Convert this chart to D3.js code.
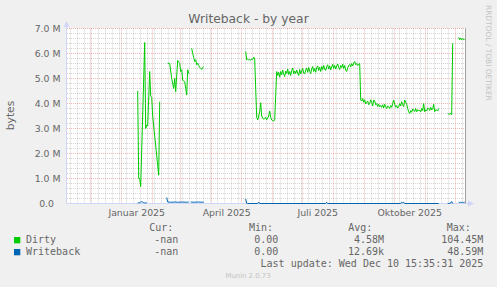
<!DOCTYPE html>
<html>
<head>
<meta charset="utf-8">
<script src="https://cdn.jsdelivr.net/npm/d3@7"></script>
<style>
  html, body { margin: 0; padding: 0; background: #f0f0f0; }
  svg { display: block; }
  text { font-family: "DejaVu Sans", sans-serif; fill: #666; }
  .mono { font-family: "DejaVu Sans Mono", monospace; font-size: 10px; white-space: pre; }
</style>
</head>
<body>
<svg id="chart" width="497" height="287"></svg>
<script>
// values in millions of bytes, null = no data (line break)
const dirty = [
  ['01-17', 4.5], ['01-18', 1.0], ['01-19', 1.0], ['01-20', 0.68], ['01-24', 6.44],
  ['01-25', 3.0], ['01-26', 3.14], ['01-27', 3.1], ['01-29', 5.28], ['01-30', 4.3],
  ['01-31', 4.25], ['02-01', 3.5], ['02-07', 1.13], ['02-08', 4.07], ['02-09', null],
  ['02-16', 5.61], ['02-18', 5.6], ['02-20', 5.0], ['02-22', 4.6], ['02-23', 5.0],
  ['02-24', 4.47], ['02-26', 5.72], ['02-28', 5.6], ['03-01', 5.28], ['03-02', 5.35],
  ['03-03', 4.93], ['03-05', 4.87], ['03-06', 4.6], ['03-07', 4.34], ['03-08', 5.35],
  ['03-09', 5.2], ['03-10', null],
  ['03-12', 6.21], ['03-13', 6.0], ['03-14', 5.85], ['03-15', 5.68], ['03-16', 5.75],
  ['03-17', 5.55], ['03-18', 5.62], ['03-19', 5.52], ['03-20', 5.45], ['03-21', 5.4],
  ['03-22', 5.36], ['03-23', 5.45], ['03-24', 5.47], ['03-25', null],
  ['05-05', 6.08], ['05-06', 5.75], ['05-07', 5.77], ['05-08', 5.74], ['05-09', 5.76],
  ['05-10', 5.73], ['05-11', 5.78], ['05-12', 5.76], ['05-13', 5.85], ['05-14', 5.78],
  ['05-16', 3.45], ['05-17', 3.34], ['05-18', 3.5], ['05-19', 3.67], ['05-20', 4.03],
  ['05-21', 3.5], ['05-22', 3.42], ['05-23', 3.37], ['05-24', 3.4], ['05-25', 3.45],
  ['05-26', 3.35], ['05-27', 3.42], ['05-28', 3.5], ['05-29', 3.7], ['05-30', 3.45],
  ['05-31', 3.34], ['06-01', 3.32], ['06-02', 3.3], ['06-03', 3.35],
  ['06-05', 5.28], ['06-06', 5.12], ['06-07', 5.25], ['06-08', 5.05], ['06-09', 5.28],
  ['06-10', 5.15], ['06-11', 5.34], ['06-12', 5.18], ['06-13', 5.08], ['06-14', 5.3],
  ['06-15', 5.2], ['06-16', 5.38], ['06-17', 5.16], ['06-18', 5.28], ['06-19', 5.12],
  ['06-20', 5.32], ['06-21', 5.42], ['06-22', 5.18], ['06-23', 5.3], ['06-24', 5.2],
  ['06-25', 5.34], ['06-26', 5.22], ['06-27', 5.12], ['06-28', 5.36], ['06-29', 5.18],
  ['06-30', 5.3], ['07-01', 5.4], ['07-02', 5.22], ['07-03', 5.18], ['07-04', 5.34],
  ['07-05', 5.42], ['07-06', 5.25], ['07-07', 5.44], ['07-08', 5.28], ['07-09', 5.2],
  ['07-10', 5.38], ['07-11', 5.48], ['07-12', 5.28], ['07-13', 5.4], ['07-14', 5.25],
  ['07-15', 5.44], ['07-16', 5.5], ['07-17', 5.32], ['07-18', 5.45], ['07-19', 5.28],
  ['07-20', 5.48], ['07-21', 5.36], ['07-22', 5.52], ['07-23', 5.38], ['07-24', 5.32],
  ['07-25', 5.48], ['07-26', 5.55], ['07-27', 5.38], ['07-28', 5.5], ['07-29', 5.35],
  ['07-30', 5.46], ['07-31', 5.57], ['08-01', 5.4], ['08-02', 5.52], ['08-03', 5.38],
  ['08-04', 5.5], ['08-05', 5.58], ['08-06', 5.44], ['08-07', 5.36], ['08-08', 5.52],
  ['08-09', 5.44], ['08-10', 5.57], ['08-11', 5.4], ['08-12', 5.52], ['08-13', 5.34],
  ['08-14', 5.28], ['08-15', 5.42], ['08-16', 5.52], ['08-17', 5.56], ['08-18', 5.46],
  ['08-19', 5.6], ['08-20', 5.5], ['08-21', 5.62], ['08-22', 5.68], ['08-23', 5.55],
  ['08-24', 5.6], ['08-25', 5.52], ['08-26', 5.58], ['08-27', 5.6],
  ['08-28', 4.14], ['08-29', 4.1], ['08-30', 4.2], ['08-31', 4.05], ['09-01', 4.15],
  ['09-02', 3.98], ['09-03', 4.05], ['09-04', 4.1], ['09-05', 3.95], ['09-06', 4.0],
  ['09-07', 4.15], ['09-08', 4.05], ['09-09', 3.9], ['09-10', 4.14], ['09-11', 4.1],
  ['09-12', 3.95], ['09-13', 4.0], ['09-14', 3.88], ['09-15', 3.97], ['09-16', 3.87],
  ['09-17', 3.92], ['09-18', 3.85], ['09-19', 3.95], ['09-20', 3.82], ['09-21', 3.97],
  ['09-22', 3.88], ['09-23', 3.8], ['09-24', 3.9], ['09-25', 3.87], ['09-26', 3.8],
  ['09-27', 3.92], ['09-28', 3.85], ['09-29', 4.0], ['09-30', 4.14], ['10-01', 3.97],
  ['10-02', 3.85], ['10-03', 3.92], ['10-04', 3.82], ['10-05', 3.87], ['10-06', 4.0],
  ['10-07', 3.9], ['10-08', 4.07], ['10-09', 3.95], ['10-10', 3.87], ['10-11', 4.14],
  ['10-12', 4.05], ['10-13', 3.97], ['10-14', 3.8], ['10-15', 3.67], ['10-16', 3.6],
  ['10-17', 3.72], ['10-18', 3.65], ['10-19', 3.78], ['10-20', 3.74], ['10-21', 3.68],
  ['10-22', 3.8], ['10-23', 3.67], ['10-24', 3.75], ['10-25', 3.7], ['10-26', 3.74],
  ['10-27', 3.66], ['10-28', 3.8], ['10-29', 3.72], ['10-30', 4.0], ['10-31', 3.67],
  ['11-01', 3.75], ['11-02', 3.7], ['11-03', 3.82], ['11-04', 3.8], ['11-05', 3.72],
  ['11-06', 3.85], ['11-07', 3.74], ['11-08', 3.78], ['11-09', 3.97], ['11-10', 3.67],
  ['11-11', 3.75], ['11-12', 3.74], ['11-13', 3.7], ['11-14', 3.8], ['11-15', null],
  ['11-23', 3.6], ['11-24', 3.58], ['11-25', 3.58], ['11-26', 3.6], ['11-27', 3.55],
  ['11-28', 6.41], ['11-29', null],
  ['12-04', 6.65], ['12-05', 6.55], ['12-06', 6.62], ['12-07', 6.55], ['12-08', 6.6],
  ['12-09', 6.55], ['12-10', 6.57]
]

const writeback = [
  ['01-17', 0.02], ['01-18', 0.03], ['01-19', 0.03], ['01-20', 0.06], ['01-21', 0.07],
  ['01-22', 0.06], ['01-23', 0.03], ['01-24', 0.02], ['01-25', 0.03], ['01-26', 0.03],
  ['01-27', null],
  ['02-15', 0.24], ['02-16', 0.06], ['02-19', 0.05], ['02-23', 0.06], ['02-27', 0.05],
  ['03-03', 0.06], ['03-07', 0.05], ['03-09', 0.06], ['03-10', null],
  ['03-11', 0.06], ['03-15', 0.05], ['03-19', 0.06], ['03-24', 0.05], ['03-25', null],
  ['05-05', 0.18], ['05-06', 0.01], ['05-07', 0.0], ['05-17', 0.0], ['05-18', 0.06],
  ['05-19', 0.0], ['07-24', 0.0], ['07-25', 0.05], ['07-26', 0.0], ['10-07', 0.0],
  ['10-08', 0.05], ['10-09', 0.03], ['10-10', 0.05], ['10-11', 0.0], ['11-14', 0.0],
  ['11-15', null],
  ['11-23', 0.01], ['11-24', 0.0], ['11-26', 0.02], ['11-27', 0.08], ['11-28', 0.0],
  ['11-29', null],
  ['12-04', 0.05], ['12-05', 0.04], ['12-06', 0.05], ['12-07', 0.04], ['12-08', 0.05],
  ['12-09', 0.04], ['12-10', 0.05]
]

const yTicks = [0, 1, 2, 3, 4, 5, 6, 7]
const xLabelMonths = ['2025-01-01', '2025-04-01', '2025-07-01', '2025-10-01']
const xLabels = ['Januar 2025', 'April 2025', 'Juli 2025', 'Oktober 2025']

const legendNames = ['Dirty', 'Writeback']
const legendColors = ['#00cc00', '#0066b3']
const legendCur = ['-nan', '-nan']
const legendMin = ['0.00', '0.00']
const legendAvg = ['4.58M', '12.69k']
const legendMax = ['104.45M', '48.59M']

const parse = d3.utcParse('%Y-%m-%d')
const toPoints = arr => arr.map(([d, v]) => ({ date: parse('2025-' + d), v }))

const plotLeft = 67, plotRight = 466, plotTop = 28.5, plotBottom = 203.5

const x = d3.scaleUtc()
  .domain([new Date(Date.UTC(2024, 10, 7, 7, 12)), new Date(Date.UTC(2025, 11, 11, 7, 12))])
  .range([plotLeft, plotRight])

const y = d3.scaleLinear()
  .domain([0, 7])
  .range([plotBottom, plotTop])

const crisp = v => Math.round(v - 0.5) + 0.5

const svg = d3.select('#chart')

// canvas
svg.append('rect')
  .attr('x', plotLeft).attr('y', plotTop)
  .attr('width', plotRight - plotLeft).attr('height', plotBottom - plotTop)
  .attr('fill', '#fff')

const grid = svg.append('g')
const minorColor = 'rgba(143,143,143,0.38)'
const majorColor = 'rgba(222,79,79,0.4)'

// minor horizontal grid (0.2 M)
const minorY = d3.range(0, 7.01, 0.2).filter(v => Math.abs(v - Math.round(v)) > 0.01)
grid.selectAll('.hmin')
  .data(minorY)
  .enter()
  .append('line')
  .attr('x1', plotLeft).attr('x2', plotRight)
  .attr('y1', d => crisp(y(d))).attr('y2', d => crisp(y(d)))
  .attr('stroke', minorColor)
  .attr('stroke-dasharray', '1,1')

// weekly minor vertical grid
const [t0, t1] = x.domain()
const months = d3.utcMonth.range(t0, t1)
const monthKeys = new Set(months.map(m => +m))
const weeks = d3.utcMonday.range(t0, t1).filter(w => !monthKeys.has(+w))
grid.selectAll('.vmin')
  .data(weeks)
  .enter()
  .append('line')
  .attr('x1', d => crisp(x(d))).attr('x2', d => crisp(x(d)))
  .attr('y1', plotTop).attr('y2', plotBottom)
  .attr('stroke', minorColor)
  .attr('stroke-dasharray', '1,1')

// major grids
grid.selectAll('.hmaj')
  .data(yTicks.slice(1))
  .enter()
  .append('line')
  .attr('x1', plotLeft).attr('x2', plotRight)
  .attr('y1', d => crisp(y(d))).attr('y2', d => crisp(y(d)))
  .attr('stroke', majorColor)
  .attr('stroke-dasharray', '1,1')

grid.selectAll('.vmaj')
  .data(months)
  .enter()
  .append('line')
  .attr('x1', d => crisp(x(d))).attr('x2', d => crisp(x(d)))
  .attr('y1', plotTop).attr('y2', plotBottom)
  .attr('stroke', majorColor)
  .attr('stroke-dasharray', '1,1')

// axes
const axisColor = '#cfd6f8'
svg.append('line')
  .attr('x1', plotLeft).attr('x2', 469).attr('y1', plotBottom).attr('y2', plotBottom)
  .attr('stroke', axisColor)
svg.append('line')
  .attr('x1', 66.5).attr('x2', 66.5).attr('y1', plotBottom).attr('y2', 25)
  .attr('stroke', axisColor)
svg.append('path')
  .attr('d', 'M468,200.5 L474,203.5 L468,206.5 Z')
  .attr('fill', axisColor)
svg.append('path')
  .attr('d', 'M63.5,27 L66.5,21 L69.5,27 Z')
  .attr('fill', axisColor)
svg.append('line')
  .attr('x1', 465.5).attr('x2', 465.5).attr('y1', plotTop).attr('y2', plotBottom)
  .attr('stroke', '#a0a0a0')

// y labels
svg.selectAll('.ylab')
  .data(yTicks)
  .enter()
  .append('text')
  .attr('x', d => d === 0 ? 54 : 60.5)
  .attr('y', d => y(d) + 3.4)
  .attr('text-anchor', 'end')
  .style('font-size', '9.33px')
  .text(d => d === 0 ? '0.0' : d.toFixed(1) + ' M')

// x labels, centred half a month after the month start
svg.selectAll('.xlab')
  .data(xLabelMonths)
  .enter()
  .append('text')
  .attr('x', d => x(d3.utcDay.offset(parse(d), 15)))
  .attr('y', 216)
  .attr('text-anchor', 'middle')
  .style('font-size', '9.33px')
  .text((d, i) => xLabels[i])

// lines
const line = d3.line()
  .defined(d => d.v !== null)
  .x(d => x(d.date))
  .y(d => y(d.v))

svg.append('path')
  .datum(toPoints(writeback))
  .attr('d', line)
  .attr('fill', 'none')
  .attr('stroke', legendColors[1])
  .attr('stroke-width', 1)

svg.append('path')
  .datum(toPoints(dirty))
  .attr('d', line)
  .attr('fill', 'none')
  .attr('stroke', legendColors[0])
  .attr('stroke-width', 1)

// title and side texts
svg.append('text')
  .attr('x', 248.5).attr('y', 23)
  .attr('text-anchor', 'middle')
  .style('font-size', '12.3px')
  .text('Writeback - by year')

svg.append('text')
  .attr('transform', 'translate(14,115.5) rotate(-90)')
  .attr('text-anchor', 'middle')
  .style('font-size', '10.7px')
  .text('bytes')

svg.append('text')
  .attr('transform', 'translate(485.5,5) rotate(90)')
  .attr('text-anchor', 'start')
  .style('font-size', '7.45px')
  .style('fill', '#c4c4c4')
  .text('RRDTOOL / TOBI OETIKER')

// legend
const legend = svg.append('g').attr('class', 'mono')
const headers = [['Cur:', 149.3], ['Min:', 249], ['Avg:', 348.3], ['Max:', 446.7]]
headers.forEach(([t, hx]) => {
  legend.append('text').attr('class', 'mono').attr('x', hx).attr('y', 231).text(t)
})

legendNames.forEach((name, i) => {
  const ly = 243.3 + i * 12
  legend.append('rect')
    .attr('x', 14).attr('y', ly - 6.3)
    .attr('width', 6.3).attr('height', 6.3)
    .attr('fill', legendColors[i])
  legend.append('text').attr('class', 'mono').attr('x', 26).attr('y', ly).text(name)
  const cols = [[legendCur[i], 178.3], [legendMin[i], 278.3], [legendAvg[i], 384], [legendMax[i], 483.3]]
  cols.forEach(([t, cx]) => {
    legend.append('text').attr('class', 'mono')
      .attr('x', cx).attr('y', ly)
      .attr('text-anchor', 'end')
      .text(t)
  })
})

legend.append('text').attr('class', 'mono')
  .attr('x', 483.3).attr('y', 267.3)
  .attr('text-anchor', 'end')
  .text('Last update: Wed Dec 10 15:35:31 2025')

svg.append('text')
  .attr('x', 248).attr('y', 277.7)
  .attr('text-anchor', 'middle')
  .style('font-size', '6.9px')
  .style('fill', '#c4c4c4')
  .text('Munin 2.0.73')
</script>
</body>
</html>
